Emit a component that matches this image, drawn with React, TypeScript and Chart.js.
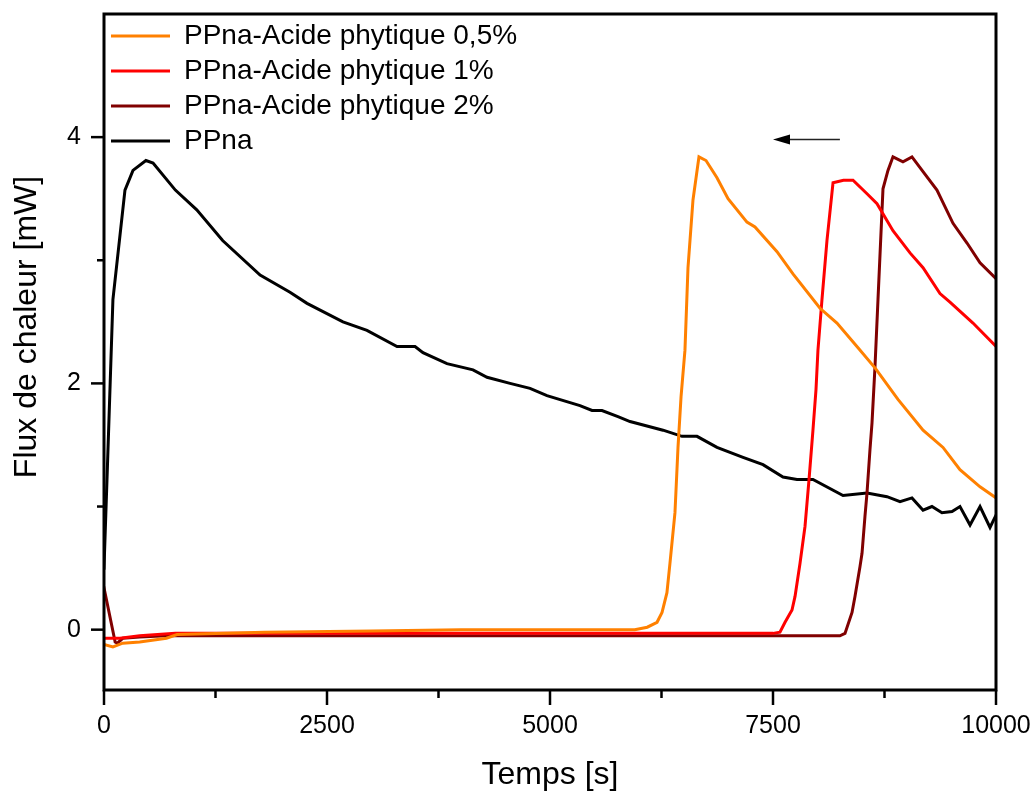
import React, { useEffect, useRef } from 'react';
import { Chart, registerables } from 'chart.js';

Chart.register(...registerables);

// ---------- data ----------
const seriesLabels = [
  'PPna-Acide phytique 0,5%',
  'PPna-Acide phytique 1%',
  'PPna-Acide phytique 2%',
  'PPna',
];
const seriesColors = ['#FF8000', '#FF0000', '#800000', '#000000'];

const orangeX = [0, 100, 210, 400, 700, 820, 1800, 3000, 4000, 5950, 6090, 6200, 6256, 6311, 6345, 6401, 6435, 6469, 6513, 6547, 6603, 6670, 6749, 6872, 6996, 7208, 7298, 7545, 7724, 8027, 8217, 8453, 8650, 8901, 9182, 9406, 9596, 9821, 10000];
const orangeY = [-0.12, -0.14, -0.11, -0.1, -0.07, -0.04, -0.02, -0.01, 0.0, 0.0, 0.02, 0.06, 0.14, 0.3, 0.54, 0.95, 1.48, 1.89, 2.27, 2.94, 3.49, 3.84, 3.81, 3.67, 3.5, 3.31, 3.27, 3.07, 2.89, 2.61, 2.49, 2.29, 2.12, 1.87, 1.62, 1.48, 1.3, 1.16, 1.07];

const redX = [0, 180, 400, 800, 3000, 5000, 7500, 7578, 7635, 7713, 7747, 7803, 7859, 7904, 7948, 7982, 8004, 8049, 8105, 8173, 8290, 8397, 8554, 8666, 8845, 9036, 9182, 9372, 9484, 9742, 10000];
const redY = [-0.07, -0.07, -0.05, -0.03, -0.03, -0.03, -0.03, -0.02, 0.06, 0.16, 0.27, 0.54, 0.84, 1.22, 1.62, 1.95, 2.27, 2.68, 3.16, 3.63, 3.65, 3.65, 3.54, 3.46, 3.24, 3.06, 2.94, 2.73, 2.66, 2.49, 2.3];

const darkX = [0, 125, 150, 210, 400, 700, 3000, 6000, 8250, 8307, 8386, 8419, 8475, 8498, 8531, 8554, 8587, 8610, 8643, 8677, 8733, 8789, 8845, 8957, 9058, 9182, 9338, 9518, 9675, 9821, 10000];
const darkY = [0.34, -0.1, -0.11, -0.07, -0.06, -0.05, -0.05, -0.05, -0.05, -0.03, 0.14, 0.27, 0.51, 0.62, 0.92, 1.11, 1.46, 1.68, 2.13, 2.68, 3.58, 3.73, 3.84, 3.8, 3.84, 3.72, 3.57, 3.3, 3.14, 2.98, 2.85];

const blackX = [0, 35, 100, 235, 325, 470, 550, 800, 1040, 1330, 1750, 2085, 2276, 2679, 2948, 3285, 3487, 3576, 3845, 4137, 4294, 4552, 4776, 4966, 5336, 5471, 5583, 5762, 5897, 6267, 6480, 6648, 6872, 7164, 7388, 7612, 7769, 7948, 8285, 8554, 8778, 8924, 9058, 9182, 9282, 9394, 9507, 9596, 9709, 9821, 9933, 10000];
const blackY = [0.5, 1.25, 2.68, 3.57, 3.73, 3.81, 3.79, 3.57, 3.41, 3.16, 2.88, 2.74, 2.65, 2.5, 2.43, 2.3, 2.3, 2.25, 2.16, 2.11, 2.05, 2.0, 1.96, 1.9, 1.82, 1.78, 1.78, 1.73, 1.69, 1.62, 1.57, 1.57, 1.48, 1.4, 1.34, 1.24, 1.22, 1.22, 1.09, 1.11, 1.08, 1.04, 1.07, 0.97, 1.0, 0.95, 0.96, 1.0, 0.85, 1.0, 0.83, 0.93];

const xTickValues = [0, 1250, 2500, 3750, 5000, 6250, 7500, 8750, 10000];
const xLabelValues = [0, 2500, 5000, 7500, 10000];
const yTickValues = [0, 1, 2, 3, 4];
const yLabelValues = [0, 2, 4];
const xRange = [0, 10000];
const yRange = [-0.49, 5.0];

const xTitle = 'Temps [s]';
const yTitle = 'Flux de chaleur [mW]';

// arrow annotation (data coords): from x1 to x2 at y
const arrowXs = [8250, 7500];
const arrowYv = [3.98];

const FONT = "'Liberation Sans', Arial, sans-serif";

const toPoints = (xs: number[], ys: number[]) => xs.map((x, i) => ({ x, y: ys[i] }));

const framePlugin = {
  id: 'frameTicks',
  afterDraw(chart: any) {
    const { ctx, chartArea: a, scales } = chart;
    const x = scales.x;
    const y = scales.y;
    ctx.save();
    ctx.strokeStyle = '#000';
    ctx.lineWidth = 3;
    ctx.strokeRect(a.left, a.top, a.right - a.left, a.bottom - a.top);
    ctx.lineWidth = 2.5;
    xTickValues.forEach((v) => {
      const px = x.getPixelForValue(v);
      const len = xLabelValues.includes(v) ? 15 : 8;
      ctx.beginPath();
      ctx.moveTo(px, a.bottom);
      ctx.lineTo(px, a.bottom + len);
      ctx.stroke();
    });
    yTickValues.forEach((v) => {
      const py = y.getPixelForValue(v);
      const len = yLabelValues.includes(v) ? 13 : 7;
      ctx.beginPath();
      ctx.moveTo(a.left, py);
      ctx.lineTo(a.left - len, py);
      ctx.stroke();
    });
    // arrow
    const ax1 = x.getPixelForValue(arrowXs[0]);
    const ax2 = x.getPixelForValue(arrowXs[1]);
    const ay = y.getPixelForValue(arrowYv[0]);
    ctx.strokeStyle = '#222';
    ctx.lineWidth = 1.5;
    ctx.beginPath();
    ctx.moveTo(ax1, ay);
    ctx.lineTo(ax2 + 8, ay);
    ctx.stroke();
    ctx.fillStyle = '#000';
    ctx.beginPath();
    ctx.moveTo(ax2, ay);
    ctx.lineTo(ax2 + 17, ay - 5);
    ctx.lineTo(ax2 + 17, ay + 5);
    ctx.closePath();
    ctx.fill();
    // y title
    ctx.fillStyle = '#000';
    ctx.font = `32px ${FONT}`;
    ctx.textAlign = 'center';
    ctx.textBaseline = 'middle';
    ctx.translate(27, (a.top + a.bottom) / 2 - 25);
    ctx.rotate(-Math.PI / 2);
    ctx.fillText(yTitle, 0, 0);
    ctx.restore();
  },
};

export default function App() {
  const ref = useRef<HTMLCanvasElement | null>(null);
  useEffect(() => {
    if (!ref.current) return;
    Chart.defaults.font.family = FONT;
    Chart.defaults.color = '#000';
    const datasets = [
      toPoints(orangeX, orangeY),
      toPoints(redX, redY),
      toPoints(darkX, darkY),
      toPoints(blackX, blackY),
    ].map((pts, i) => ({
      label: seriesLabels[i],
      data: pts,
      borderColor: seriesColors[i],
      backgroundColor: seriesColors[i],
      borderWidth: 3,
      pointRadius: 0,
      tension: 0,
      borderCapStyle: 'square' as const,
    }));
    const chart = new Chart(ref.current, {
      type: 'line',
      data: { datasets },
      options: {
        animation: false,
        responsive: false,
        devicePixelRatio: 1,
        layout: { padding: { left: 0, top: 14, right: 39, bottom: 0 } },
        plugins: {
          legend: {
            position: 'chartArea' as any,
            align: 'start',
            title: {
              display: true,
              text: ' ',
              font: { size: 15, lineHeight: 1 },
              padding: 0,
            },
            labels: {
              usePointStyle: true,
              pointStyle: 'line',
              pointStyleWidth: 59,
              padding: 7,
              color: '#000',
              font: { size: 28, family: FONT },
            },
          },
          tooltip: { enabled: false },
        },
        scales: {
          x: {
            type: 'linear',
            min: xRange[0],
            max: xRange[1],
            afterBuildTicks: (s: any) => {
              s.ticks = xTickValues.map((v) => ({ value: v }));
            },
            afterFit: (s: any) => {
              s.height = 101;
              s.paddingLeft = 0;
              s.paddingRight = 0;
            },
            ticks: {
              autoSkip: false,
              maxRotation: 0,
              padding: 6,
              font: { size: 25, family: FONT },
              color: '#000',
              callback: (v: any) => (xLabelValues.includes(Number(v)) ? String(v) : ''),
            },
            grid: {
              display: true,
              drawOnChartArea: false,
              drawTicks: true,
              tickLength: 15,
              tickColor: 'rgba(0,0,0,0)',
            },
            border: { display: false },
            title: {
              display: true,
              text: xTitle,
              color: '#000',
              font: { size: 32, family: FONT, lineHeight: 1 },
              padding: { top: 0, bottom: 0 },
            },
          },
          y: {
            type: 'linear',
            min: yRange[0],
            max: yRange[1],
            afterBuildTicks: (s: any) => {
              s.ticks = yTickValues.map((v) => ({ value: v }));
            },
            afterFit: (s: any) => {
              s.width = 104;
              s.paddingTop = 0;
              s.paddingBottom = 0;
            },
            ticks: {
              autoSkip: false,
              padding: 9,
              font: { size: 25, family: FONT },
              color: '#000',
              callback: (v: any) => (yLabelValues.includes(Number(v)) ? String(v) : ''),
            },
            grid: {
              display: true,
              drawOnChartArea: false,
              drawTicks: true,
              tickLength: 14,
              tickColor: 'rgba(0,0,0,0)',
            },
            border: { display: false },
          },
        },
      },
      plugins: [framePlugin],
    });
    return () => chart.destroy();
  }, []);
  return (
    <div style={{ position: 'absolute', left: 0, top: 0, width: 1035, height: 791, background: '#fff' }}>
      <canvas ref={ref} width={1035} height={791} style={{ display: 'block', width: 1035, height: 791 }} />
    </div>
  );
}
